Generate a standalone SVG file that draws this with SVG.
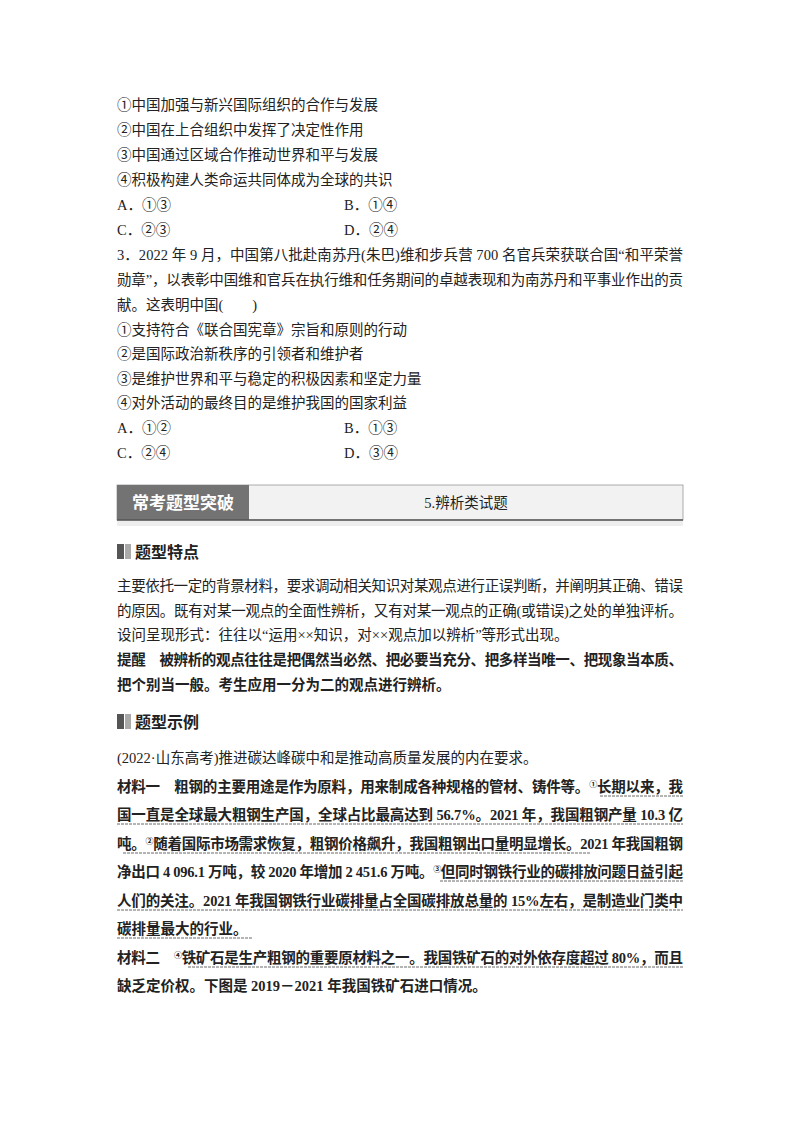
<svg xmlns="http://www.w3.org/2000/svg" width="800" height="1132" viewBox="0 0 800 1132">
<style>
.t{font-family:"Liberation Serif","Noto Sans CJK SC",serif;font-size:14.5px;fill:#222}
.b{font-family:"Liberation Serif","Noto Sans CJK SC",serif;font-size:14.5px;fill:#222;font-weight:bold}
.h{font-family:"Noto Sans CJK SC",sans-serif;font-size:16px;fill:#222;font-weight:bold}
.u{stroke:#444;stroke-width:0.8;fill:none}
</style>
<rect width="800" height="1132" fill="#fff"/>
<g class="t">
<text x="117" y="110">①中国加强与新兴国际组织的合作与发展</text>
<text x="117" y="135">②中国在上合组织中发挥了决定性作用</text>
<text x="117" y="160">③中国通过区域合作推动世界和平与发展</text>
<text x="117" y="185">④积极构建人类命运共同体成为全球的共识</text>
<text x="117" y="210">A．①③</text><text x="344" y="210">B．①④</text>
<text x="117" y="235">C．②③</text><text x="344" y="235">D．②④</text>
<text x="117" y="260" textLength="566" lengthAdjust="spacing">3．2022 年 9 月，中国第八批赴南苏丹(朱巴)维和步兵营 700 名官兵荣获联合国“和平荣誉</text>
<text x="117" y="285" textLength="566" lengthAdjust="spacing">勋章”，以表彰中国维和官兵在执行维和任务期间的卓越表现和为南苏丹和平事业作出的贡</text>
<text x="117" y="310">献。这表明中国(　　)</text>
<text x="117" y="335">①支持符合《联合国宪章》宗旨和原则的行动</text>
<text x="117" y="359">②是国际政治新秩序的引领者和维护者</text>
<text x="117" y="384">③是维护世界和平与稳定的积极因素和坚定力量</text>
<text x="117" y="408">④对外活动的最终目的是维护我国的国家利益</text>
<text x="117" y="433">A．①②</text><text x="344" y="433">B．①③</text>
<text x="117" y="458">C．②④</text><text x="344" y="458">D．③④</text>
</g>
<g id="bar">
<rect x="117" y="485" width="566" height="35" fill="#f2f2f2" stroke="#999" stroke-width="0.8"/>
<rect x="117" y="485" width="132" height="35" fill="#737373"/>
<line x1="117" y1="520" x2="683" y2="520" stroke="#555" stroke-width="1.5"/>
<rect x="117" y="521" width="566" height="5" fill="#eee"/>
<text x="183" y="509" text-anchor="middle" font-family="Noto Sans CJK SC,sans-serif" font-size="17" font-weight="bold" fill="#fff">常考题型突破</text>
<text x="466" y="508" text-anchor="middle" class="t" font-size="13">5.辨析类试题</text>
</g>
<g id="h1"><rect x="117" y="544" width="7" height="15" fill="#555"/><rect x="125" y="544" width="6" height="15" fill="#aaa"/><text x="135" y="558" class="h">题型特点</text></g>
<g class="t">
<text x="117" y="591" textLength="566" lengthAdjust="spacing">主要依托一定的背景材料，要求调动相关知识对某观点进行正误判断，并阐明其正确、错误</text>
<text x="117" y="616" textLength="566" lengthAdjust="spacing">的原因。既有对某一观点的全面性辨析，又有对某一观点的正确(或错误)之处的单独评析。</text>
<text x="117" y="640">设问呈现形式：往往以“运用××知识，对××观点加以辨析”等形式出现。</text>
</g>
<g class="b">
<text x="117" y="665" textLength="566" lengthAdjust="spacing">提醒　被辨析的观点往往是把偶然当必然、把必要当充分、把多样当唯一、把现象当本质、</text>
<text x="117" y="690">把个别当一般。考生应用一分为二的观点进行辨析。</text>
</g>
<g id="h2"><rect x="117" y="714" width="7" height="15" fill="#555"/><rect x="125" y="714" width="6" height="15" fill="#aaa"/><text x="135" y="728" class="h">题型示例</text></g>
<text x="117" y="763" class="t">(2022·山东高考)推进碳达峰碳中和是推动高质量发展的内在要求。</text>
<g class="b">
<text x="117" y="792" textLength="566" lengthAdjust="spacing">材料一　粗钢的主要用途是作为原料，用来制成各种规格的管材、铸件等。<tspan font-size="8" dy="-5">①</tspan><tspan dy="5">长期以来，我</tspan></text>
<text x="117" y="820" textLength="566" lengthAdjust="spacing">国一直是全球最大粗钢生产国，全球占比最高达到 56.7%。2021 年，我国粗钢产量 10.3 亿</text>
<text x="117" y="849" textLength="566" lengthAdjust="spacing">吨。<tspan font-size="8" dy="-5">②</tspan><tspan dy="5">随着国际市场需求恢复，粗钢价格飙升，我国粗钢出口量明显增长。2021 年我国粗钢</tspan></text>
<text x="117" y="877" textLength="566" lengthAdjust="spacing">净出口 4 096.1 万吨，较 2020 年增加 2 451.6 万吨。<tspan font-size="8" dy="-5">③</tspan><tspan dy="5">但同时钢铁行业的碳排放问题日益引起</tspan></text>
<text x="117" y="906" textLength="566" lengthAdjust="spacing">人们的关注。2021 年我国钢铁行业碳排量占全国碳排放总量的 15%左右，是制造业门类中</text>
<text x="117" y="934">碳排量最大的行业。</text>
<text x="117" y="963" textLength="566" lengthAdjust="spacing">材料二　<tspan font-size="8" dy="-5">④</tspan><tspan dy="5">铁矿石是生产粗钢的重要原材料之一。我国铁矿石的对外依存度超过 80%，而且</tspan></text>
<text x="117" y="991">缺乏定价权。下图是 2019－2021 年我国铁矿石进口情况。</text>
</g>
<g class="u" stroke-dasharray="3 1">
<line x1="600" y1="796" x2="683" y2="796"/>
<line x1="117" y1="824" x2="683" y2="824"/>
<line x1="123" y1="853" x2="590" y2="853"/>
<line x1="440" y1="881" x2="683" y2="881"/>
<line x1="117" y1="910" x2="683" y2="910"/>
<line x1="117" y1="938" x2="253" y2="938"/>
<line x1="188" y1="967" x2="683" y2="967"/>
</g>
</svg>
